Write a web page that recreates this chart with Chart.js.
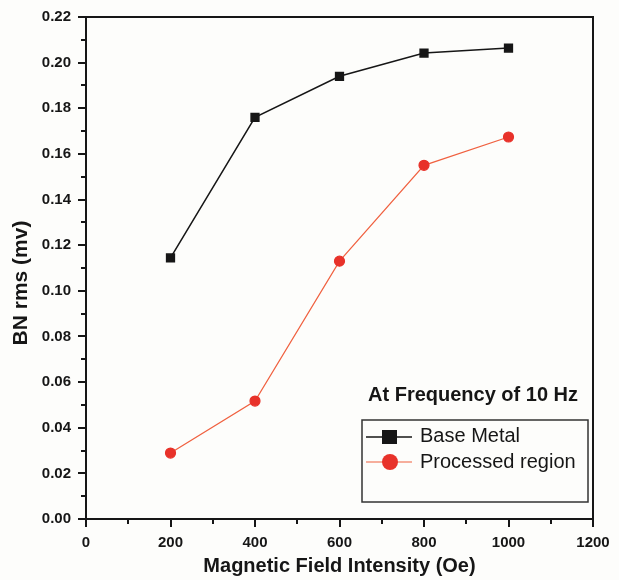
<!DOCTYPE html>
<html><head><meta charset="utf-8">
<script src="https://cdn.jsdelivr.net/npm/chart.js@4/dist/chart.umd.min.js"></script>
<style>html,body{margin:0;padding:0;background:#fdfdfb;}#wrap{width:619px;height:580px;}</style>
</head><body><div id="wrap"><canvas id="c" width="619" height="580"></canvas></div>
<script>
const fieldIntensity = [200, 400, 600, 800, 1000];
const baseMetal = [0.1144, 0.176, 0.194, 0.2042, 0.2064];
const processedRegion = [0.0289, 0.0517, 0.113, 0.155, 0.1674];
const xMajorTicks = [0, 200, 400, 600, 800, 1000, 1200];
const yMajorTicks = [0.00, 0.02, 0.04, 0.06, 0.08, 0.10, 0.12, 0.14, 0.16, 0.18, 0.20, 0.22];
const seriesNames = ['Base Metal', 'Processed region'];
const annotationText = 'At Frequency of 10 Hz';
const xTitle = 'Magnetic Field Intensity (Oe)';
const yTitle = 'BN rms (mv)';

const BLACK = '#161616';
const RED = '#e8322a';
const RED_LINE = '#f0603f';
const FONT = '"Liberation Sans", Arial, sans-serif';

const toPts = ys => fieldIntensity.map((x, i) => ({x, y: ys[i]}));

const framePlugin = {
  id: 'frame',
  afterDatasetsDraw(chart) {
    const {ctx, chartArea: a, scales: {x, y}} = chart;
    ctx.save();
    ctx.strokeStyle = BLACK;
    ctx.lineWidth = 2;
    ctx.strokeRect(a.left, a.top, a.right - a.left, a.bottom - a.top);
    for (let v = 0; v <= 1200; v += 100) {
      const px = Math.round(x.getPixelForValue(v));
      const major = v % 200 === 0;
      ctx.beginPath();
      ctx.moveTo(px, a.bottom);
      ctx.lineTo(px, a.bottom + (major ? 8 : 5));
      ctx.stroke();
    }
    for (let i = 0; i <= 22; i++) {
      const py = Math.round(y.getPixelForValue(i / 100));
      const major = i % 2 === 0;
      ctx.beginPath();
      ctx.moveTo(a.left, py);
      ctx.lineTo(a.left - (major ? 8 : 5), py);
      ctx.stroke();
    }
    // axis titles
    ctx.fillStyle = BLACK;
    ctx.textBaseline = 'middle';
    ctx.textAlign = 'center';
    ctx.font = 'bold 20px ' + FONT;
    ctx.fillText(xTitle, (a.left + a.right) / 2, 566);
    ctx.save();
    ctx.translate(21, 283);
    ctx.rotate(-Math.PI / 2);
    ctx.font = 'bold 21px ' + FONT;
    ctx.fillText(yTitle, 0, 0);
    ctx.restore();
    // annotation
    ctx.textAlign = 'left';
    ctx.font = 'bold 20px ' + FONT;
    ctx.fillText(annotationText, 368, 395);
    // legend box
    ctx.lineWidth = 1.5;
    ctx.strokeStyle = '#333';
    ctx.fillStyle = '#fdfdfb';
    ctx.fillRect(362, 420, 226, 82);
    ctx.strokeRect(362, 420, 226, 82);
    ctx.strokeStyle = BLACK; ctx.lineWidth = 1.5;
    ctx.beginPath(); ctx.moveTo(366, 437); ctx.lineTo(412, 437); ctx.stroke();
    ctx.fillStyle = BLACK;
    ctx.fillRect(382, 430, 15, 14);
    ctx.strokeStyle = RED_LINE; ctx.lineWidth = 1.2;
    ctx.beginPath(); ctx.moveTo(366, 462); ctx.lineTo(412, 462); ctx.stroke();
    ctx.fillStyle = RED;
    ctx.beginPath(); ctx.arc(390, 462, 8, 0, Math.PI * 2); ctx.fill();
    ctx.fillStyle = BLACK;
    ctx.font = '20px ' + FONT;
    ctx.fillText(seriesNames[0], 420, 436);
    ctx.fillText(seriesNames[1], 420, 462);
    ctx.restore();
  }
};

new Chart(document.getElementById('c'), {
  type: 'line',
  data: {
    datasets: [
      {label: seriesNames[0], data: toPts(baseMetal), borderColor: BLACK, backgroundColor: BLACK,
       borderWidth: 1.5, pointStyle: 'rect', pointRadius: 5.5, pointHoverRadius: 5.5, tension: 0},
      {label: seriesNames[1], data: toPts(processedRegion), borderColor: RED_LINE, backgroundColor: RED,
       pointBorderColor: RED, borderWidth: 1.2, pointStyle: 'circle', pointRadius: 5, pointHoverRadius: 5, tension: 0}
    ]
  },
  options: {
    responsive: false,
    animation: false,
    events: [],
    layout: {padding: {left: 0, right: 26, top: 17, bottom: 0}},
    plugins: {legend: {display: false}, tooltip: {enabled: false}},
    scales: {
      x: {
        type: 'linear', min: 0, max: 1200,
        afterBuildTicks: s => { s.ticks = xMajorTicks.map(v => ({value: v})); },
        afterFit: s => { s.height = 61; },
        grid: {display: true, drawOnChartArea: false, drawTicks: true, tickLength: 8, tickColor: 'rgba(0,0,0,0)'},
        border: {display: false},
        ticks: {color: BLACK, font: {family: FONT, size: 15, weight: 'bold'}, padding: 7, maxRotation: 0, callback: v => String(v)},
        title: {display: false}
      },
      y: {
        type: 'linear', min: 0, max: 0.22,
        afterBuildTicks: s => { s.ticks = yMajorTicks.map(v => ({value: v})); },
        afterFit: s => { s.width = 86; },
        grid: {display: true, drawOnChartArea: false, drawTicks: true, tickLength: 8, tickColor: 'rgba(0,0,0,0)'},
        border: {display: false},
        ticks: {color: BLACK, font: {family: FONT, size: 15, weight: 'bold'}, padding: 7, callback: v => v.toFixed(2)},
        title: {display: false}
      }
    }
  },
  plugins: [framePlugin]
});
</script></body></html>
